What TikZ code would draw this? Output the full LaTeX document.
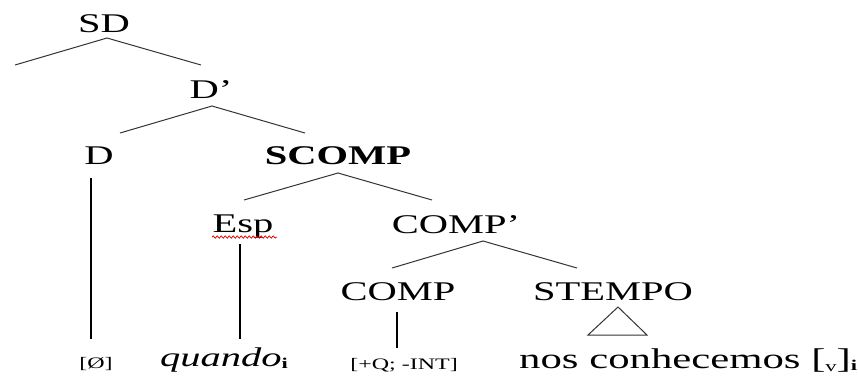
\documentclass[tikz,border=0pt]{standalone}
\usepackage{fontspec}
\setmainfont{Liberation Serif}[FakeStretch=1.5,
  UprightFont=*, BoldFont=* Bold, ItalicFont=* Italic, BoldItalicFont=* Bold Italic]
\usetikzlibrary{decorations.pathmorphing}
\tikzset{
  lbl/.style={inner sep=0pt, anchor=base, font=\fontsize{27}{30}\selectfont},
  smalllbl/.style={inner sep=0pt, anchor=base, font=\fontsize{16}{18}\selectfont},
  branch/.style={line width=1pt, draw=black!80},
  stem/.style={line width=2.6pt, draw=black},
  wavy/.style={draw=red!85!black, line width=0.7pt, decorate,
    decoration={snake, amplitude=1.2pt, segment length=4pt}}
}
\newcommand{\subi}{\raisebox{-2pt}{\fontsize{15}{15}\selectfont\upshape\bfseries i}}
\begin{document}
\begin{tikzpicture}[x=1pt,y=-1pt]
\useasboundingbox (0,0) rectangle (858,376);
% labels
\node[lbl] (SD) at (104,32) {SD};
\node[lbl] (Dbar) at (211,98) {D’};
\node[lbl] (D) at (99,164) {D};
\node[lbl,font=\fontsize{27}{30}\selectfont\bfseries] (SCOMP) at (338,164) {SCOMP};
\node[lbl] (Esp) at (243,232) {Esp};
\node[lbl] (COMPbar) at (456,233) {COMP’};
\node[lbl] (COMP) at (398,300) {COMP};
\node[lbl] (STEMPO) at (613,300) {STEMPO};
\node[smalllbl] (null) at (96,368) {[Ø]};
\node[lbl,anchor=base west] (quando) at (160,366) {\itshape quando\subi};
\node[smalllbl] (feat) at (404,369) {[+Q; -INT]};
\node[lbl,anchor=base west,font=\fontsize{28.5}{30}\selectfont] (nos) at (519,368) {nos conhecemos [\raisebox{-3pt}{\fontsize{15}{15}\selectfont v}]\subi};
% coordinates
\coordinate (sdA) at (107,38);
\coordinate (sdL) at (15,65);
\coordinate (sdR) at (201,65);
\coordinate (dbA) at (212,106);
\coordinate (dbL) at (120,133);
\coordinate (dbR) at (305,133);
\coordinate (scA) at (338,173);
\coordinate (scL) at (244,200);
\coordinate (scR) at (432,200);
\coordinate (cbA) at (483,241);
\coordinate (cbL) at (392,268);
\coordinate (cbR) at (577,268);
\coordinate (dT) at (91,178);
\coordinate (dB) at (91,339);
\coordinate (eT) at (240,244);
\coordinate (eB) at (240,339);
\coordinate (cT) at (397,312);
\coordinate (cB) at (397,348);
\coordinate (tA) at (618,307);
\coordinate (tL) at (588,335);
\coordinate (tR) at (647,335);
\coordinate (wL) at (212,237);
\coordinate (wR) at (277,237);
% branches
\draw[branch] (sdL) -- (sdA) -- (sdR);
\draw[branch] (dbL) -- (dbA) -- (dbR);
\draw[branch] (scL) -- (scA) -- (scR);
\draw[branch] (cbL) -- (cbA) -- (cbR);
\draw[stem] (dT) -- (dB);
\draw[stem] (eT) -- (eB);
\draw[stem] (cT) -- (cB);
\draw[branch] (tA) -- (tL) -- (tR) -- cycle;
\draw[wavy] (wL) -- (wR);
\end{tikzpicture}
\end{document}
